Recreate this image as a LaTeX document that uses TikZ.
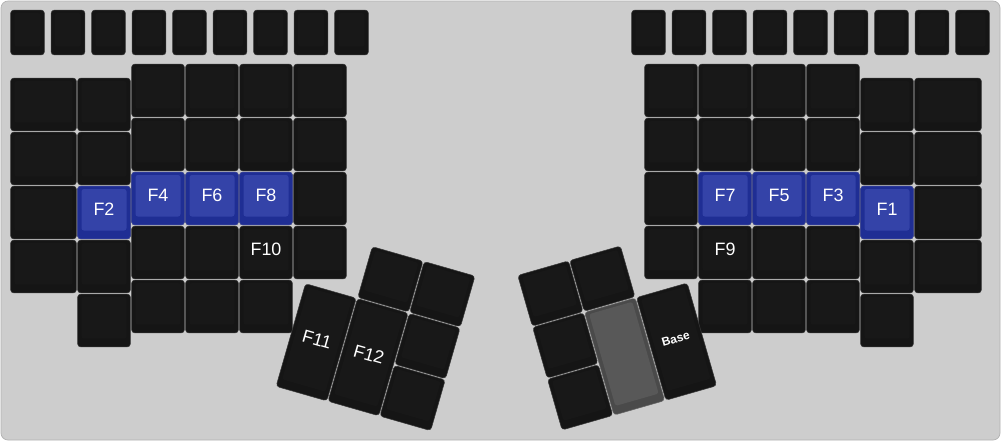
\documentclass[tikz,border=0pt]{standalone}
\usepackage{fontspec}
\setmainfont{Liberation Sans}
\usepackage{xcolor}
\usepackage{tikz}

\definecolor{boardbg}{HTML}{CDCDCD}
\definecolor{boardrim}{HTML}{B2B2B2}
\definecolor{keyout}{HTML}{151515}
\definecolor{keyin}{HTML}{181818}
\definecolor{blueout}{HTML}{1F2E94}
\definecolor{bluein}{HTML}{3443A8}
\definecolor{grayout}{HTML}{4A4A4A}
\definecolor{grayin}{HTML}{585858}

% x, y, w, h (px, y down), rim colour, face colour
\newcommand{\keyat}[6]{%
  \filldraw[fill=#5, draw=#5!85!white, line width=0.3pt, rounded corners=1.8pt]
    (#1+0.6,#2+0.6) rectangle (#1+#3-0.6,#2+#4-0.6);
  \fill[#6, rounded corners=1.4pt] (#1+4.5,#2+3.5) rectangle (#1+#3-4.5,#2+#4-9);
}

\begin{document}
\begin{tikzpicture}[x=0.02cm, y=-0.02cm,
  keylabel/.style={text=white, inner sep=0pt, font=\fontsize{10.2}{12}\selectfont},
  baselabel/.style={text=white, inner sep=0pt, font=\bfseries\fontsize{6.8}{8}\selectfont}]
\useasboundingbox (0,0) rectangle (1001,441);
\fill[white] (0,0) rectangle (1001,441);
\filldraw[fill=boardbg, draw=boardrim, rounded corners=4pt] (1,1) rectangle (1000,440);
% function key rows
\foreach \i in {0,...,8}{
  \keyat{10+40.5*\i}{9.5}{35}{46}{keyout}{keyin}
  \keyat{631+40.5*\i}{9.5}{35}{46}{keyout}{keyin}
}
% left well: columns 2-5 start higher than columns 0-1
\foreach \x/\n in {131/4, 185/4, 239/4, 293/3}
  \foreach \r in {0,...,\n} {\keyat{\x}{63.5+54*\r}{54}{54}{keyout}{keyin}}
\foreach \r in {0,...,3} {\keyat{10}{77.5+54*\r}{67}{54}{keyout}{keyin}}
\foreach \r in {0,...,4} {\keyat{77}{77.5+54*\r}{54}{54}{keyout}{keyin}}
% right well (mirrored)
\foreach \x/\n in {644/3, 698/4, 752/4, 806/4}
  \foreach \r in {0,...,\n} {\keyat{\x}{63.5+54*\r}{54}{54}{keyout}{keyin}}
\foreach \r in {0,...,4} {\keyat{860}{77.5+54*\r}{54}{54}{keyout}{keyin}}
\foreach \r in {0,...,3} {\keyat{914}{77.5+54*\r}{68}{54}{keyout}{keyin}}
% highlighted home-row keys
\foreach \x/\y/\lab in {77/185.5/F2, 131/171.5/F4, 185/171.5/F6, 239/171.5/F8,
                        698/171.5/F7, 752/171.5/F5, 806/171.5/F3, 860/185.5/F1}{
  \keyat{\x}{\y}{54}{54}{blueout}{bluein}
  \node[keylabel] (key\lab) at (\x+27,\y+24) {\lab};
}
\node[keylabel] (keyF10) at (266,249.5) {F10};
\node[keylabel] (keyF9) at (725,249.5) {F9};
% left thumb cluster
\begin{scope}[shift={(320,231)}, rotate=-16, transform shape]
  \keyat{54}{0}{54}{54}{keyout}{keyin}
  \keyat{108}{0}{54}{54}{keyout}{keyin}
  \keyat{0}{54}{54}{108}{keyout}{keyin}
  \keyat{54}{54}{54}{108}{keyout}{keyin}
  \keyat{108}{54}{54}{54}{keyout}{keyin}
  \keyat{108}{108}{54}{54}{keyout}{keyin}
  \node[keylabel] (keyF11) at (27,105) {F11};
  \node[keylabel] (keyF12) at (81,105) {F12};
\end{scope}
% right thumb cluster
\begin{scope}[shift={(517,275)}, rotate=16, transform shape]
  \keyat{0}{0}{54}{54}{keyout}{keyin}
  \keyat{54}{0}{54}{54}{keyout}{keyin}
  \keyat{0}{54}{54}{54}{keyout}{keyin}
  \keyat{0}{108}{54}{54}{keyout}{keyin}
  \keyat{54}{54}{54}{108}{grayout}{grayin}
  \keyat{108}{54}{54}{108}{keyout}{keyin}
  \node[baselabel] (keyBase) at (135,105) {Base};
\end{scope}
\end{tikzpicture}
\end{document}
